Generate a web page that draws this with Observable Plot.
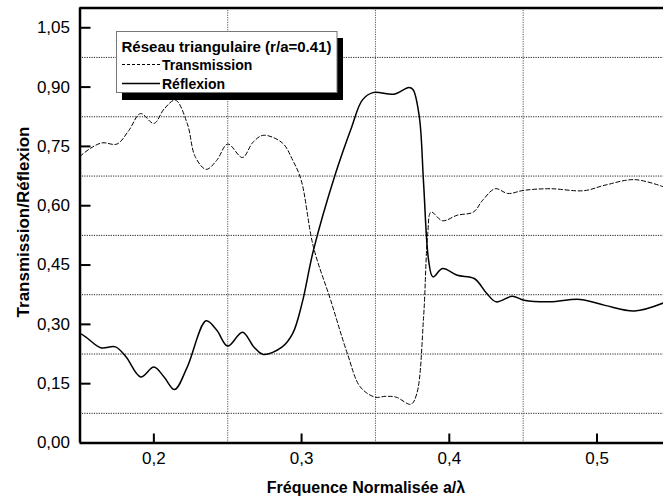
<!DOCTYPE html>
<html>
<head>
<meta charset="utf-8">
<script src="https://cdn.jsdelivr.net/npm/d3@7"></script>
<script src="https://cdn.jsdelivr.net/npm/@observablehq/plot@0.6"></script>
<style>
  html, body { margin: 0; padding: 0; background: #fff; }
  #chart svg { display: block; }
</style>
</head>
<body>
<div id="chart"></div>
<script>
// ---- data ----
const freqT = [0.150, 0.157, 0.165, 0.175, 0.183, 0.191, 0.200, 0.207, 0.2146, 0.2226, 0.228, 0.2354, 0.2426, 0.250, 0.260, 0.267, 0.274, 0.2869, 0.294, 0.2997, 0.308, 0.3197, 0.331, 0.3397, 0.3497, 0.357, 0.364, 0.374, 0.378, 0.3826, 0.3854, 0.3877, 0.3954, 0.4054, 0.4163, 0.4226, 0.4311, 0.4397, 0.4506, 0.4683, 0.4911, 0.5054, 0.5254, 0.5449];
const transmission = [0.725, 0.745, 0.759, 0.756, 0.790, 0.833, 0.808, 0.845, 0.867, 0.808, 0.724, 0.692, 0.715, 0.756, 0.722, 0.760, 0.778, 0.759, 0.715, 0.665, 0.496, 0.361, 0.226, 0.142, 0.116, 0.118, 0.116, 0.098, 0.125, 0.319, 0.530, 0.584, 0.562, 0.576, 0.584, 0.614, 0.643, 0.631, 0.639, 0.643, 0.638, 0.652, 0.666, 0.648];

const freqR = [0.150, 0.154, 0.164, 0.174, 0.1811, 0.1911, 0.200, 0.2069, 0.214, 0.2226, 0.2354, 0.2426, 0.250, 0.260, 0.2677, 0.274, 0.2869, 0.294, 0.3003, 0.308, 0.3226, 0.334, 0.3411, 0.3483, 0.3626, 0.3726, 0.3754, 0.3797, 0.3826, 0.386, 0.3889, 0.3954, 0.4054, 0.4169, 0.4254, 0.4317, 0.4426, 0.4506, 0.4683, 0.4883, 0.5054, 0.5254, 0.5449];
const reflection = [0.277, 0.268, 0.241, 0.243, 0.218, 0.167, 0.192, 0.167, 0.135, 0.192, 0.309, 0.285, 0.245, 0.280, 0.243, 0.224, 0.243, 0.277, 0.353, 0.487, 0.677, 0.800, 0.867, 0.886, 0.882, 0.899, 0.894, 0.825, 0.656, 0.462, 0.420, 0.441, 0.424, 0.416, 0.378, 0.357, 0.371, 0.361, 0.357, 0.363, 0.348, 0.334, 0.354];

const xDomain = [0.15, 0.545];
const yDomain = [0, 1.10];
const xTicks = [0.2, 0.3, 0.4, 0.5];
const yTicks = [0, 0.15, 0.30, 0.45, 0.60, 0.75, 0.90, 1.05];
const xGrid = [0.25, 0.35, 0.45];
const yGrid = [0.075, 0.225, 0.375, 0.525, 0.675, 0.825, 0.975];

const xTitle = "Fréquence Normalisée a/λ";
const yTitle = "Transmission/Réflexion";
const legendTitle = "Réseau triangulaire (r/a=0.41)";
const seriesNames = ["Transmission", "Réflexion"];

const T = freqT.map((f, i) => ({f, v: transmission[i]}));
const R = freqR.map((f, i) => ({f, v: reflection[i]}));
const comma = (n, d) => n.toFixed(d).replace(".", ",");

const FONT = "'Liberation Sans', Arial, sans-serif";

const plot = Plot.plot({
  width: 663,
  height: 499,
  marginLeft: 79.5,
  marginRight: 0,
  marginTop: 7.5,
  marginBottom: 56.5,
  style: {fontFamily: FONT, color: "#000", background: "#fff"},
  x: {domain: xDomain},
  y: {domain: yDomain},
  marks: [
    Plot.ruleY(yGrid, {stroke: "#222", strokeWidth: 1, strokeDasharray: "1.2,1.2"}),
    Plot.ruleX(xGrid, {stroke: "#555", strokeWidth: 1, strokeDasharray: "1.2,1.2"}),
    // labels
    Plot.axisY(yTicks, {anchor: "left", tickSize: 0, tickPadding: 10, tickFormat: d => comma(d, 2), fontSize: 17, label: null}),
    Plot.axisX(xTicks, {anchor: "bottom", tickSize: 0, tickPadding: 9, tickFormat: d => comma(d, 1), fontSize: 17, label: null}),
    // inward ticks
    Plot.axisY(yTicks, {anchor: "right", frameAnchor: "left", tickSize: 10, strokeWidth: 2, fill: "none", label: null}),
    Plot.axisX(xTicks, {anchor: "top", frameAnchor: "bottom", tickSize: 10, strokeWidth: 2, fill: "none", label: null}),
    // frame
    Plot.ruleY([yDomain[1]], {strokeWidth: 2.5}),
    Plot.ruleY([yDomain[0]], {strokeWidth: 2.5}),
    Plot.ruleX([xDomain[0]], {strokeWidth: 2.5}),
    // series
    Plot.line(T, {x: "f", y: "v", curve: "catmull-rom", stroke: "#000", strokeWidth: 1, strokeDasharray: "4,2.5"}),
    Plot.line(R, {x: "f", y: "v", curve: "catmull-rom", stroke: "#000", strokeWidth: 1.5})
  ]
});

const svg = d3.select(plot);
// axis titles
svg.append("text")
  .attr("x", 366).attr("y", 493)
  .attr("text-anchor", "middle")
  .attr("font-family", FONT).attr("font-weight", "bold").attr("font-size", 16)
  .text(xTitle);
svg.append("text")
  .attr("transform", "translate(29,222) rotate(-90)")
  .attr("text-anchor", "middle")
  .attr("font-family", FONT).attr("font-weight", "bold").attr("font-size", 17)
  .text(yTitle);

// legend
const lg = svg.append("g")
  .attr("font-family", FONT).attr("font-weight", "bold").attr("font-size", 14)
  .attr("text-anchor", "start");
lg.append("rect").attr("x", 122).attr("y", 38).attr("width", 221).attr("height", 62).attr("fill", "#000");
lg.append("rect").attr("x", 116.5).attr("y", 31.5).attr("width", 220.5).attr("height", 61).attr("fill", "#fff").attr("stroke", "#777").attr("stroke-width", 1);
lg.append("text").attr("x", 121.5).attr("y", 51.5).attr("text-anchor", "start")
  .attr("textLength", 210).attr("lengthAdjust", "spacingAndGlyphs").text(legendTitle);
lg.append("line").attr("x1", 122).attr("x2", 160).attr("y1", 64.5).attr("y2", 64.5).attr("stroke", "#000").attr("stroke-width", 1).attr("stroke-dasharray", "3,2");
lg.append("text").attr("x", 162).attr("y", 69.5).attr("text-anchor", "start").text(seriesNames[0]);
lg.append("line").attr("x1", 122).attr("x2", 160).attr("y1", 83.5).attr("y2", 83.5).attr("stroke", "#000").attr("stroke-width", 1.5);
lg.append("text").attr("x", 162).attr("y", 88.5).attr("text-anchor", "start").text(seriesNames[1]);

document.getElementById("chart").appendChild(plot);
</script>
</body>
</html>
